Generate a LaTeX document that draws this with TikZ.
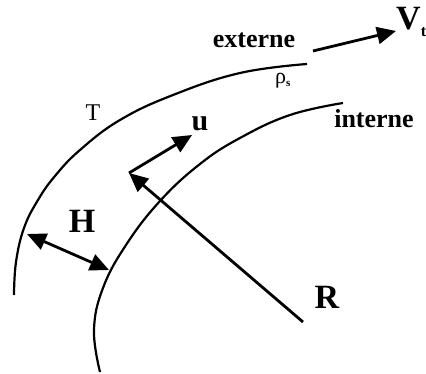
\documentclass[tikz,border=0pt]{standalone}
\usepackage{fontspec}
\setmainfont{Liberation Serif}
\usetikzlibrary{arrows.meta}
\begin{document}
\begin{tikzpicture}[x=1pt,y=-1pt,
  curve/.style={line width=2.2pt},
  vec/.style={line width=2.8pt,-{Triangle[length=19pt,width=17pt]}},
  dvec/.style={line width=2.8pt,{Triangle[length=19pt,width=17pt]}-{Triangle[length=19pt,width=17pt]}},
  word/.style={font=\bfseries\fontsize{26}{26}\selectfont, inner sep=0pt},
  big/.style={font=\bfseries\fontsize{34}{34}\selectfont, inner sep=0pt},
  thin/.style={font=\fontsize{24}{24}\selectfont, inner sep=0pt}]
\useasboundingbox (0,0) rectangle (426,374);
% surfaces
\draw[curve] plot[smooth, tension=0.7] coordinates {(14,295) (16,262) (24,228) (38,200) (55,176) (80,150) (120,120) (173,95) (240,73) (307,64)};
\draw[curve] plot[smooth, tension=0.7] coordinates {(100,372) (94,330) (103,288) (126,245) (160,201) (200,164) (240,138) (290,115) (343,103)};
% labels
\node[word] (ext) at (254,40) {externe};
\node[word] (int) at (374,119) {interne};
\node[big] (H) at (82,221) {H};
\node[big] (R) at (327,297) {R};
\node[font=\bfseries\fontsize{30}{30}\selectfont, inner sep=0pt] (u) at (200,123.5) {u};
\node[big, anchor=base west] (V) at (396,30) {V\raisebox{-0.2em}{\fontsize{16}{16}\selectfont t}};
\node[thin, anchor=center] (T) at (93,113) {T};
\node[font=\fontsize{22}{22}\selectfont, inner sep=0pt, anchor=base west] (rho) at (275,84) {ρ\raisebox{-0.12em}{\bfseries\fontsize{11}{11}\selectfont s}};
% vectors
\coordinate (vt) at (313,51);
\coordinate (vh) at (396,31);
\coordinate (o) at (129,173);
\coordinate (uh) at (192,135);
\coordinate (rt) at (303,322);
\coordinate (h1) at (27,234);
\coordinate (h2) at (109,270);
\draw[vec] (vt) -- (vh);
\draw[vec] (o) -- (uh);
\draw[vec] (rt) -- (o);
\draw[dvec] (h1) -- (h2);
\end{tikzpicture}
\end{document}
